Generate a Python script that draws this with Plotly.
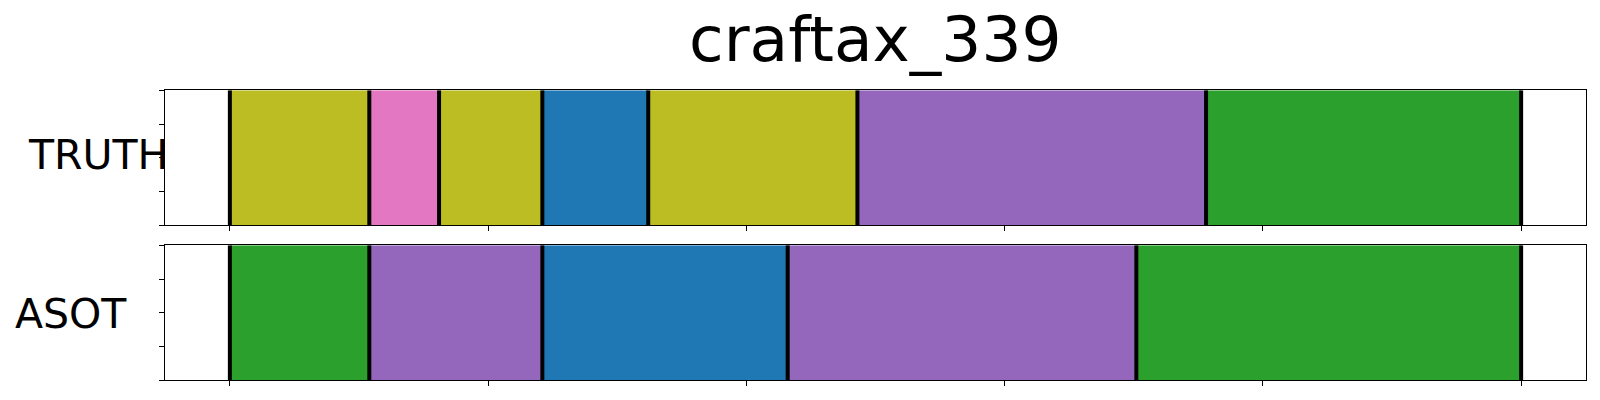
import plotly.graph_objects as go

title_text = "craftax_339"
row_labels = ["TRUTH", "ASOT"]

# segment boundaries (frame index) and the class of each segment
truth_bounds = [0, 54, 81, 121, 162, 243, 378, 500]
truth_classes = [8, 6, 8, 0, 8, 4, 2]
asot_bounds = [0, 54, 121, 216, 351, 500]
asot_classes = [2, 4, 0, 4, 2]

x_ticks = [0, 100, 200, 300, 400, 500]
y_ticks = [0, 0.25, 0.5, 0.75, 1.0]

tab10 = ["#1f77b4", "#ff7f0e", "#2ca02c", "#d62728", "#9467bd",
         "#8c564b", "#e377c2", "#7f7f7f", "#bcbd22", "#17becf"]

W, H = 1600, 400
fig = go.Figure()

rows = [(truth_bounds, truth_classes, "x", "y"),
        (asot_bounds, asot_classes, "x2", "y2")]
for bounds, classes, xa, ya in rows:
    for i, c in enumerate(classes):
        fig.add_trace(go.Bar(
            y=[0.5], x=[bounds[i + 1] - bounds[i]], base=[bounds[i]],
            orientation="h", width=1.0,
            marker=dict(color=tab10[c], line=dict(width=0)),
            xaxis=xa, yaxis=ya, showlegend=False, hoverinfo="skip"))
    lx, ly = [], []
    for b in bounds:
        lx += [b, b, None]
        ly += [0, 1, None]
    fig.add_trace(go.Scatter(x=lx, y=ly, mode="lines",
                             line=dict(color="black", width=4),
                             xaxis=xa, yaxis=ya, showlegend=False,
                             hoverinfo="skip", cliponaxis=True))

x0, x1 = 165.3 / W, 1585.7 / W
top_dom = [(H - 225.3) / H, (H - 90.3) / H]
bot_dom = [(H - 380.3) / H, (H - 245.3) / H]

xcommon = dict(range=[-25, 525], tickvals=x_ticks, showticklabels=False,
               ticks="outside", ticklen=5, tickwidth=1, tickcolor="black",
               showline=True, linecolor="black", linewidth=1, mirror=True,
               showgrid=False, zeroline=False, domain=[x0, x1])
ycommon = dict(range=[0, 1], tickvals=y_ticks, showticklabels=False,
               ticks="outside", ticklen=5, tickwidth=1, tickcolor="black",
               showline=True, linecolor="black", linewidth=1, mirror=True,
               showgrid=False, zeroline=False)

fig.update_layout(
    width=W, height=H,
    margin=dict(l=0, r=0, t=0, b=0),
    paper_bgcolor="white", plot_bgcolor="white",
    barmode="overlay",
    font=dict(family="DejaVu Sans", color="black"),
    xaxis=dict(**xcommon, anchor="y"),
    yaxis=dict(**ycommon, domain=top_dom, anchor="x"),
    xaxis2=dict(**xcommon, anchor="y2"),
    yaxis2=dict(**ycommon, domain=bot_dom, anchor="x2"),
)

fig.add_annotation(text=title_text, x=(x0 + x1) / 2, y=1 - 40 / H,
                   xref="paper", yref="paper", xanchor="center", yanchor="middle",
                   showarrow=False, font=dict(size=63, family="DejaVu Sans"))
fig.add_annotation(text=row_labels[0], x=97.5 / W, y=1 - 155 / H,
                   xref="paper", yref="paper", xanchor="center", yanchor="middle",
                   showarrow=False, font=dict(size=41, family="DejaVu Sans"))
fig.add_annotation(text=row_labels[1], x=71 / W, y=1 - 314 / H,
                   xref="paper", yref="paper", xanchor="center", yanchor="middle",
                   showarrow=False, font=dict(size=41, family="DejaVu Sans"))

fig.write_html("out.html", config={"displayModeBar": False},
               post_script="document.body.style.margin='0';document.body.style.padding='0';")
